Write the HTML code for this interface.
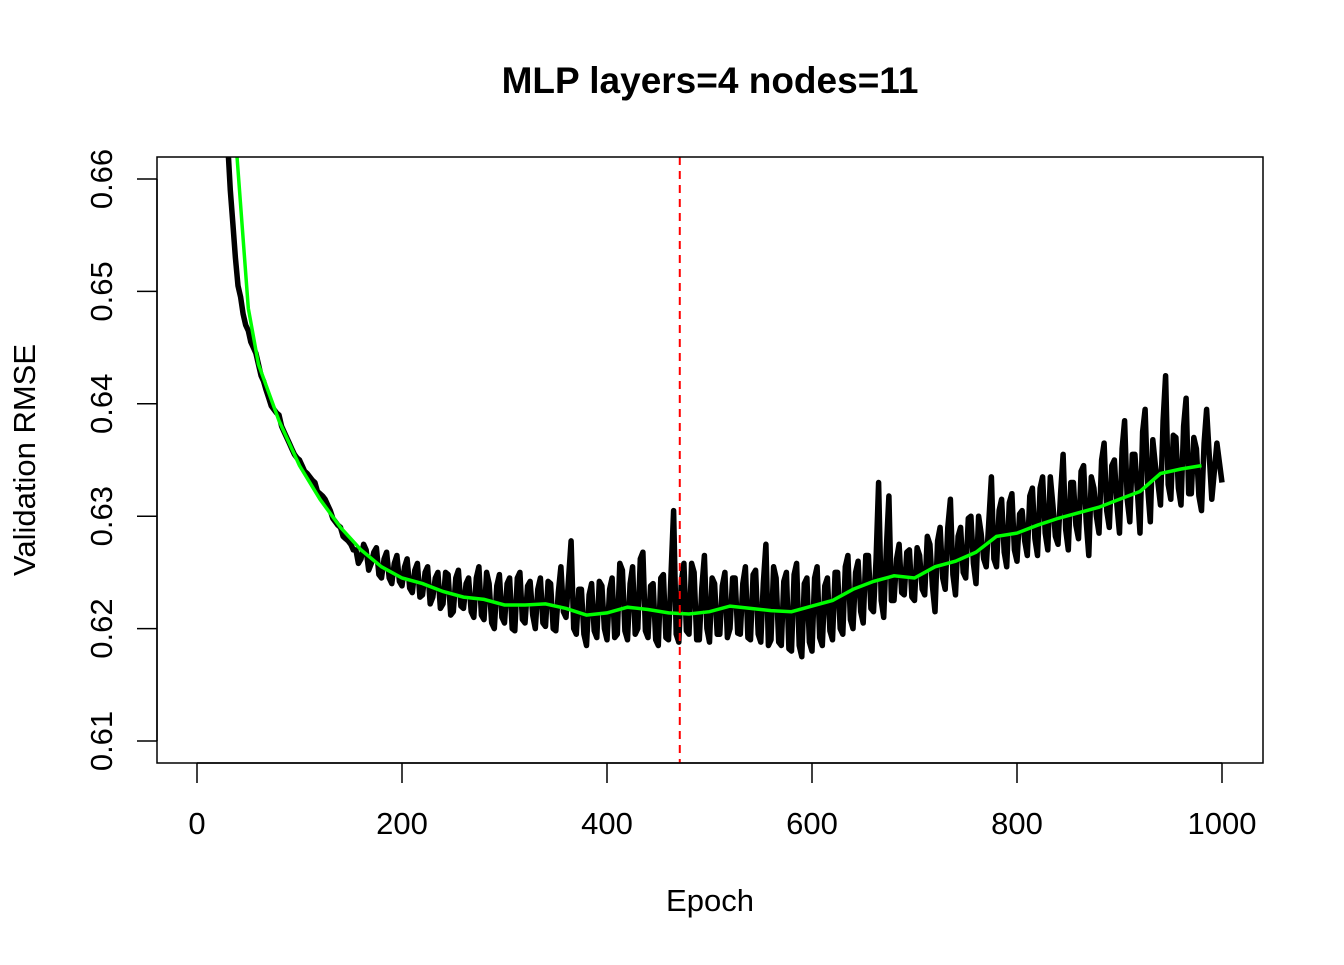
<!DOCTYPE html>
<html><head><meta charset="utf-8"><style>
body{margin:0;background:#fff}
svg text{font-family:"Liberation Sans",Arial,sans-serif;fill:#000}
</style></head><body>
<svg id="chart" width="1344" height="960" viewBox="0 0 1344 960" xmlns="http://www.w3.org/2000/svg">
<defs><clipPath id="clip"><rect x="157" y="157" width="1106" height="606"/></clipPath></defs>
<rect width="1344" height="960" fill="#fff"/>
<text x="710" y="93" font-size="37" font-weight="bold" text-anchor="middle">MLP layers=4 nodes=11</text>
<text x="710" y="911" font-size="31" text-anchor="middle">Epoch</text>
<text transform="translate(35,460) rotate(-90)" font-size="31" text-anchor="middle">Validation RMSE</text>
<g id="xaxis"></g>
<g id="yaxis"></g>
<g clip-path="url(#clip)">
<path id="black" fill="none" stroke="#000" stroke-width="5.5" stroke-linejoin="round"/>
<path id="green" fill="none" stroke="#00ff00" stroke-width="3.5"/>
<line id="best" stroke="#ff0000" stroke-width="2" stroke-dasharray="8,6"/>
</g>
<rect x="157" y="157" width="1106" height="606" fill="none" stroke="#000" stroke-width="1.5"/>
</svg>
<script>
const xTicks=[0,200,400,600,800,1000];
const yTicks=[0.61,0.62,0.63,0.64,0.65,0.66];
const bestEpoch=471;
const blackStart=30, blackStep=5;
const blackValues=[0.663,0.656,0.6505,0.648,0.6465,0.645,0.6435,0.642,0.6405,0.6395,0.639,0.6375,0.6365,0.6355,0.635,0.634,0.6335,0.633,0.632,0.6315,0.6305,0.6295,0.629,0.628,0.6275,0.627,0.6262,0.627,0.6258,0.6272,0.6245,0.6268,0.6240,0.6265,0.6238,0.6262,0.6232,0.6258,0.6230,0.6255,0.6228,0.6250,0.6222,0.6248,0.6215,0.6252,0.6218,0.6245,0.6210,0.6255,0.6208,0.6240,0.6200,0.6248,0.6205,0.6245,0.6198,0.6250,0.6205,0.6242,0.6200,0.6245,0.6202,0.6240,0.6198,0.6255,0.6210,0.6278,0.6195,0.6235,0.6185,0.6240,0.6192,0.6238,0.6190,0.6245,0.6195,0.6252,0.6190,0.6255,0.6200,0.6268,0.6192,0.6240,0.6185,0.6248,0.6190,0.6305,0.6188,0.6258,0.6195,0.6250,0.6190,0.6265,0.6188,0.6240,0.6195,0.6250,0.6200,0.6245,0.6195,0.6255,0.6190,0.6252,0.6188,0.6275,0.6190,0.6245,0.6185,0.6250,0.6180,0.6258,0.6175,0.6245,0.6180,0.6255,0.6185,0.6245,0.6190,0.6250,0.6195,0.6265,0.6200,0.6260,0.6205,0.6265,0.6215,0.6330,0.6210,0.6318,0.6225,0.6275,0.6230,0.6270,0.6225,0.6265,0.6230,0.6275,0.6215,0.6290,0.6235,0.6315,0.6230,0.6290,0.6245,0.6300,0.6240,0.6285,0.6255,0.6335,0.6255,0.6315,0.6255,0.6320,0.6260,0.6305,0.6265,0.6325,0.6265,0.6335,0.6270,0.6310,0.6275,0.6355,0.6270,0.6330,0.6280,0.6345,0.6265,0.6325,0.6285,0.6365,0.6290,0.6350,0.6285,0.6385,0.6295,0.6355,0.6285,0.6395,0.6295,0.6345,0.6310,0.6425,0.6315,0.6370,0.6310,0.6405,0.6320,0.6360,0.6305,0.6395,0.6315,0.6365,0.6330];
const blackValuesB=[0.659,0.653,0.6495,0.647,0.6455,0.6445,0.6425,0.6412,0.6398,0.6392,0.638,0.637,0.636,0.6352,0.6345,0.6338,0.6332,0.6322,0.6318,0.631,0.6298,0.6292,0.6282,0.6278,0.627,0.6258,0.6275,0.6252,0.6268,0.6248,0.6262,0.6245,0.6258,0.6242,0.6255,0.6236,0.6252,0.6228,0.6250,0.6222,0.6245,0.6218,0.6250,0.6212,0.6245,0.6220,0.6240,0.6215,0.6245,0.6212,0.6250,0.6205,0.6238,0.6210,0.6240,0.6200,0.6245,0.6208,0.6238,0.6212,0.6235,0.6205,0.6242,0.6200,0.6232,0.6215,0.6245,0.6200,0.6235,0.6195,0.6230,0.6198,0.6242,0.6200,0.6235,0.6192,0.6258,0.6198,0.6240,0.6195,0.6262,0.6198,0.6238,0.6190,0.6245,0.6192,0.6250,0.6195,0.6242,0.6198,0.6258,0.6190,0.6236,0.6200,0.6245,0.6195,0.6238,0.6192,0.6245,0.6196,0.6240,0.6192,0.6248,0.6195,0.6240,0.6185,0.6255,0.6188,0.6242,0.6182,0.6248,0.6185,0.6240,0.6188,0.6245,0.6192,0.6238,0.6198,0.6250,0.6200,0.6255,0.6208,0.6250,0.6215,0.6265,0.6218,0.6262,0.6225,0.6270,0.6225,0.6262,0.6232,0.6268,0.6228,0.6272,0.6235,0.6282,0.6238,0.6278,0.6245,0.6290,0.6248,0.6282,0.6250,0.6298,0.6258,0.6300,0.6262,0.6295,0.6262,0.6305,0.6268,0.6312,0.6270,0.6302,0.6278,0.6318,0.6280,0.6325,0.6285,0.6335,0.6282,0.6320,0.6288,0.6330,0.6292,0.6340,0.6295,0.6335,0.6300,0.6350,0.6305,0.6345,0.6310,0.6360,0.6315,0.6355,0.6322,0.6375,0.6325,0.6368,0.6330,0.6385,0.6328,0.6372,0.6325,0.6380,0.6320,0.6370,0.6318,0.6365];
const greenEpochs=[39,50,60,80,100,120,140,160,180,200,220,240,260,280,300,320,340,360,380,400,420,440,460,480,500,520,540,560,580,600,620,640,660,680,700,720,740,760,780,800,820,840,860,880,900,920,940,960,980];
const greenValues=[0.662,0.6485,0.6435,0.6385,0.6345,0.6315,0.629,0.627,0.6255,0.6245,0.624,0.6233,0.6228,0.6226,0.6221,0.6221,0.6222,0.6218,0.6212,0.6214,0.6219,0.6217,0.6214,0.6213,0.6215,0.622,0.6218,0.6216,0.6215,0.622,0.6225,0.6235,0.6242,0.6247,0.6245,0.6255,0.626,0.6268,0.6282,0.6285,0.6292,0.6298,0.6303,0.6308,0.6315,0.6322,0.6338,0.6342,0.6345];
const X=e=>197+e*1.025;
const Y=v=>179+(0.66-v)*11240;
const NS='http://www.w3.org/2000/svg';
const xa=document.getElementById('xaxis'),ya=document.getElementById('yaxis');
function mk(p,t,a){const e=document.createElementNS(NS,t);for(const k in a)e.setAttribute(k,a[k]);p.appendChild(e);return e;}
mk(xa,'line',{x1:X(0),x2:X(1000),y1:763,y2:763,stroke:'#000','stroke-width':1.5});
xTicks.forEach(t=>{
 const tk=mk(xa,'line',{x1:X(t),x2:X(t),y1:763,y2:783,stroke:'#000','stroke-width':1.5});
 
 
 const tx=mk(xa,'text',{x:X(t),y:834,'font-size':31,'text-anchor':'middle'});
 tx.textContent=t;
 
 
});
yTicks.forEach(t=>{
 const tk=mk(ya,'line',{x1:137,x2:157,y1:Y(t),y2:Y(t),stroke:'#000','stroke-width':1.5});
 
 
 const tx=mk(ya,'text',{transform:`translate(112,${Y(t)}) rotate(-90)`,'font-size':31,'text-anchor':'middle'});
 tx.textContent=t.toFixed(2);
 
 
});
mk(ya,'line',{x1:157,x2:157,y1:Y(0.61),y2:Y(0.66),stroke:'#000','stroke-width':1.5});
const pts=[];
blackValues.forEach((v,i)=>{
 pts.push([blackStart+i*blackStep,v]);
 if(i<blackValuesB.length) pts.push([blackStart+i*blackStep+blackStep/2,blackValuesB[i]]);
});
document.getElementById('black').setAttribute('d',pts.map((p,i)=>(i?'L':'M')+X(p[0]).toFixed(1)+','+Y(p[1]).toFixed(1)).join(''));
document.getElementById('green').setAttribute('d',greenValues.map((v,i)=>(i?'L':'M')+X(greenEpochs[i]).toFixed(1)+','+Y(v).toFixed(1)).join(''));
const b=document.getElementById('best');
b.setAttribute('x1',X(bestEpoch));b.setAttribute('x2',X(bestEpoch));b.setAttribute('y1',157);b.setAttribute('y2',763);
</script>
</body></html>
